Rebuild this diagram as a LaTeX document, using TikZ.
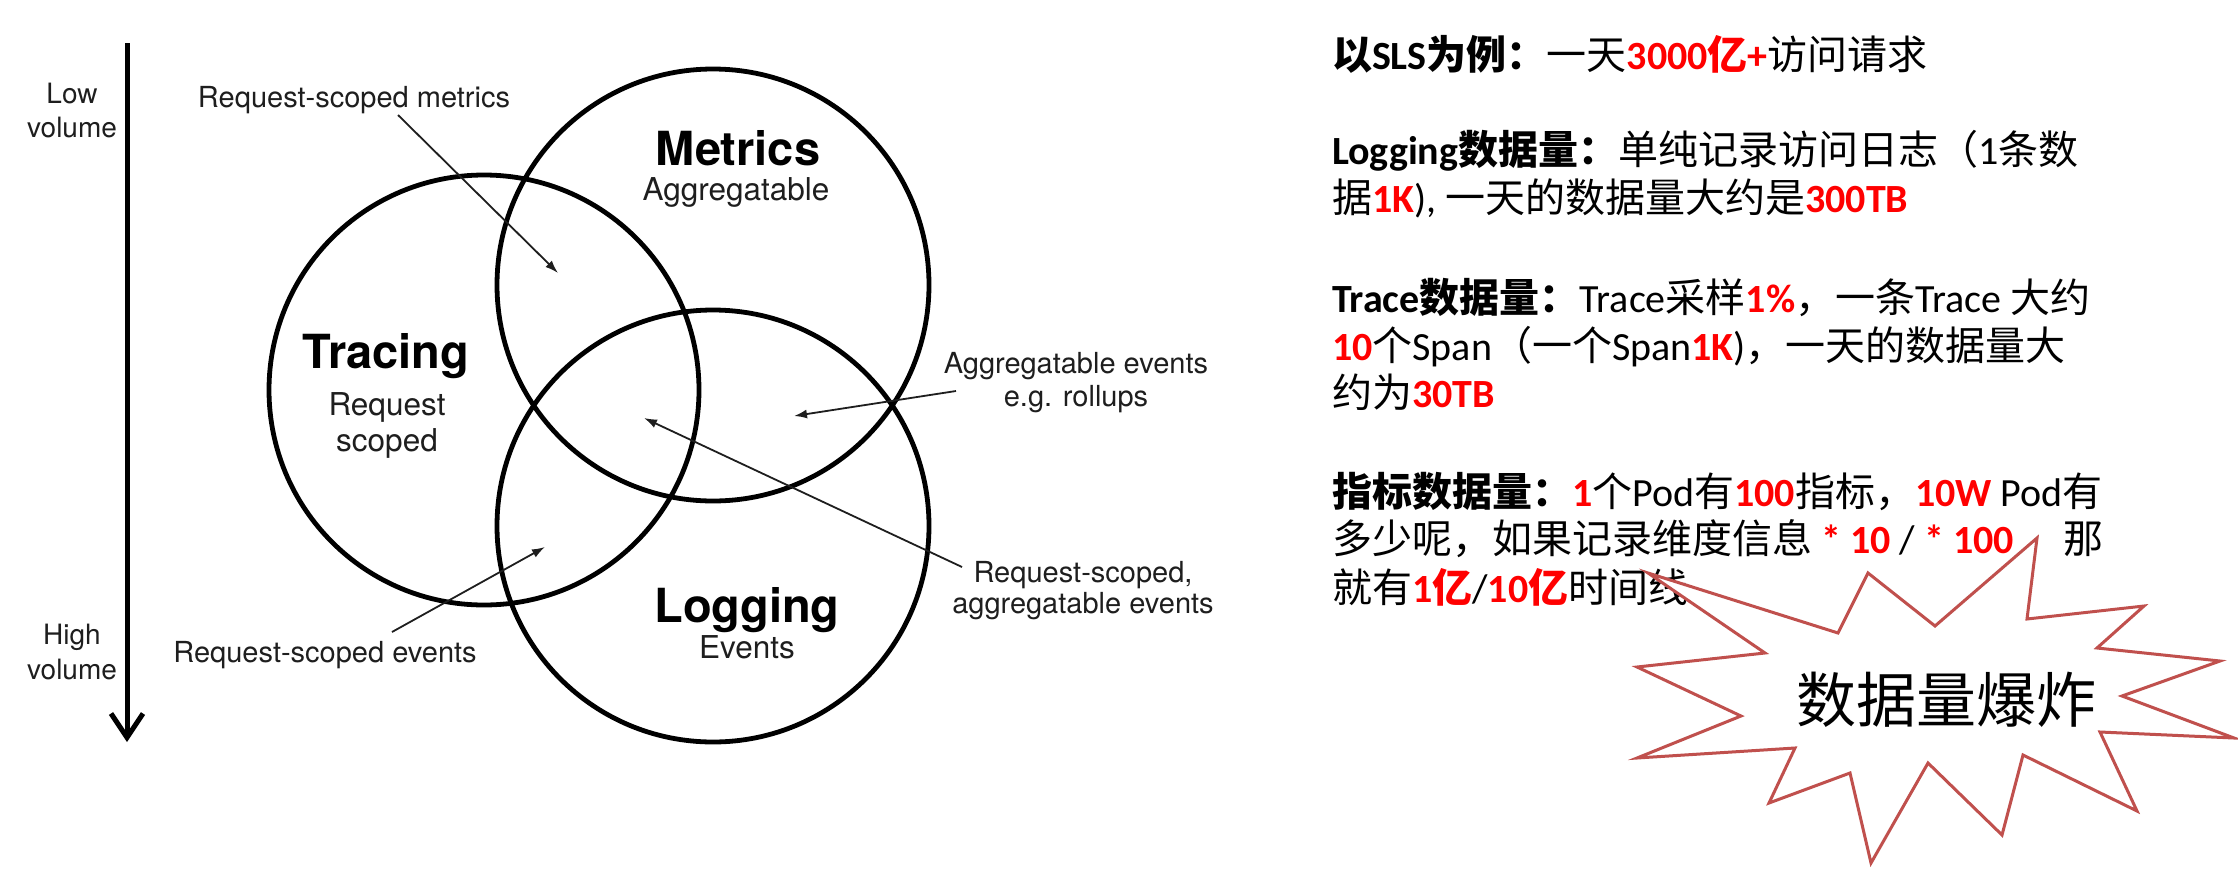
\documentclass[tikz,border=0pt]{standalone}
\usepackage{fontspec}
\usetikzlibrary{arrows.meta}
\setmainfont{Noto Sans CJK SC}
\newfontfamily\enfont{Carlito}
\newfontfamily\helv{TeX Gyre Heros}
\definecolor{starred}{HTML}{C0504D}
\definecolor{ink}{HTML}{1E1E1E}
% Latin run in Carlito, highlighted run in bold red
\newcommand\en[1]{{\enfont #1}}
\newcommand\hot[1]{\textcolor{red}{\bfseries #1}}

\begin{document}
\begin{tikzpicture}[x=1pt,y=-1pt,
  every node/.style={inner sep=0pt, outer sep=0pt},
  vennset/.style={circle, draw=black, line width=4.8pt, minimum size=#1},
  title/.style={font=\helv\bfseries\fontsize{47}{56}\selectfont, anchor=base},
  sub/.style={font=\helv\fontsize{31.5}{38}\selectfont, anchor=base, text=ink},
  note/.style={font=\helv\fontsize{29}{34}\selectfont, anchor=base, text=ink},
  side/.style={font=\helv\fontsize{28}{34}\selectfont, anchor=base, text=ink},
  pointer/.style={line width=1.8pt, draw=ink, -{Latex[length=13pt,width=9pt]}},
  txt/.style={font=\fontsize{40}{48}\selectfont, anchor=base west},
]
\useasboundingbox[fill=white] (0,0) rectangle (2238,876);

% volume axis
\coordinate (axtop) at (127,43);
\coordinate (axbot) at (127,742);
\draw[line width=5pt, -{Straight Barb[length=24pt,width=32pt]}] (axtop) -- (axbot);
\node[side] (low1) at (72,103) {Low};
\node[side] (low2) at (72,137) {volume};
\node[side] (high1) at (72,644) {High};
\node[side] (high2) at (72,679) {volume};

% the three sets
\node[vennset=430pt] (tracing) at (484,390) {};
\node[vennset=432pt] (metrics) at (713,285) {};
\node[vennset=432pt] (logging) at (713,526) {};

\node[title] (mt) at (738,165) {Metrics};
\node[sub]   (ms) at (736,200) {Aggregatable};
\node[title] (tt) at (386,368) {Tracing};
\node[sub]   (ts1) at (387,415) {Request};
\node[sub]   (ts2) at (387,451) {scoped};
\node[title] (lt) at (747,622) {Logging};
\node[sub]   (ls) at (747,658) {Events};

% overlap annotations
\node[note] (rsm) at (354,107) {Request-scoped metrics};
\node[note] (rse) at (325,662) {Request-scoped events};
\node[note] (age1) at (1076,373) {Aggregatable events};
\node[note] (age2) at (1076,406) {e.g. rollups};
\node[note] (rsa1) at (1083,582) {Request-scoped,};
\node[note] (rsa2) at (1083,613) {aggregatable events};

\coordinate (rsmS) at (398,115);  \coordinate (rsmT) at (558,273);
\coordinate (rseS) at (392,632);  \coordinate (rseT) at (545,547);
\coordinate (ageS) at (956,391);  \coordinate (ageT) at (794,416);
\coordinate (rsaS) at (962,567);  \coordinate (rsaT) at (644,418);
\draw[pointer] (rsmS) -- (rsmT);
\draw[pointer] (rseS) -- (rseT);
\draw[pointer] (ageS) -- (ageT);
\draw[pointer] (rsaS) -- (rsaT);

% data volume notes
\node[txt] (t1) at (1332,69) {{\bfseries 以\en{SLS}为例：}一天\hot{\en{3000}亿\en{+}}访问请求};
\node[txt] (t2) at (1332,164) {{\bfseries \en{Logging}数据量：}单纯记录访问日志（\en{1}条数};
\node[txt] (t3) at (1332,212) {据\hot{\en{1K}}\en{), }一天的数据量大约是\hot{\en{300TB}}};
\node[txt] (t4) at (1332,312) {{\bfseries \en{Trace}数据量：}\en{Trace}采样\hot{\en{1\%}}，一条\en{Trace }大约};
\node[txt] (t5) at (1332,360) {\hot{\en{10}}个\en{Span}（一个\en{Span}\hot{\en{1K}}\en{)}，一天的数据量大};
\node[txt] (t6) at (1332,407) {约为\hot{\en{30TB}}};
\node[txt] (t7) at (1332,506) {{\bfseries 指标数据量：}\hot{\en{1}}个\en{Pod}有\hot{\en{100}}指标，\hot{\en{10W}}\en{ Pod}有};
\node[txt] (t8) at (1332,553) {多少呢，如果记录维度信息\en{ }\hot{\en{* 10}}\en{ / }\hot{\en{* 100}}\hspace{50pt}那};
\node[txt] (t9) at (1332,602) {就有\hot{\en{1}亿}\en{/}\hot{\en{10}亿}时间线};

% explosion callout
\draw[starred, line width=3pt, fill=white, line join=miter]
  (1648,573) -- (1838,633) -- (1868,573) -- (1935,626) -- (2037,538)
  -- (2027,619) -- (2144,606) -- (2097,648) -- (2220,661) -- (2122,696)
  -- (2234,738) -- (2100,732) -- (2137,811) -- (2023,755) -- (2002,835)
  -- (1928,763) -- (1871,863) -- (1850,773) -- (1769,803) -- (1795,748)
  -- (1637,758) -- (1741,716) -- (1637,667) -- (1765,653) -- cycle;
\node[font=\fontsize{60}{72}\selectfont] (boom) at (1946,700) {数据量爆炸};
\end{tikzpicture}
\end{document}
